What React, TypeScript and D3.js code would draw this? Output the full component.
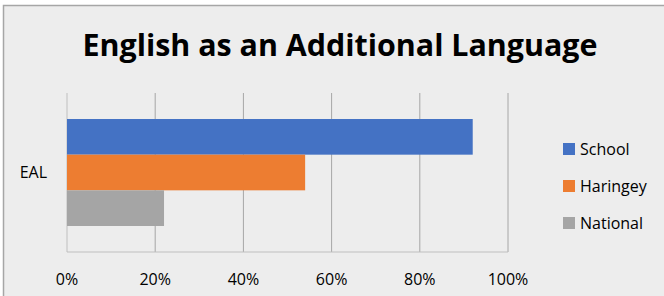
import React from "react";
import * as d3 from "d3";

const categories = ["EAL"];
const seriesNames = ["School", "Haringey", "National"];
const seriesValues = [0.92, 0.54, 0.22];
const seriesColors = ["#4472C4", "#ED7D31", "#A5A5A5"];
const xTicks = [0, 0.2, 0.4, 0.6, 0.8, 1.0];
const title = "English as an Additional Language";

export default function App() {
  const W = 664, H = 296;
  const x = d3.scaleLinear().domain([0, 1]).range([67, 508]);
  const y = d3.scaleBand().domain(categories).range([93, 252]);
  const inner = d3
    .scaleBand()
    .domain(seriesNames)
    .range([y(categories[0])! + 26, y(categories[0])! + y.bandwidth() - 26]);
  const font = "'Open Sans', sans-serif";
  return (
    <svg width={W} height={H} style={{ position: "absolute", left: 0, top: 0, display: "block" }}>
      <rect x={0} y={0} width={W} height={H} fill="#ffffff" />
      <rect x={3.5} y={5.5} width={W + 10} height={H + 10} fill="#EDEDED" stroke="#A6A6A6" strokeWidth={1.5} />
      <text x={340} y={55.5} textAnchor="middle" fontFamily={font} fontWeight={700} fontSize={30} fill="#000" textLength={515} lengthAdjust="spacingAndGlyphs">
        {title}
      </text>
      {xTicks.map((t) => (
        <line key={t} x1={x(t)} x2={x(t)} y1={93} y2={252} stroke={t === 0 ? "#BFBFBF" : "#A6A6A6"} strokeWidth={1} />
      ))}
      <line x1={67} x2={508} y1={252} y2={252} stroke="#BFBFBF" strokeWidth={1} />
      {seriesNames.map((s, i) => (
        <rect key={s} x={x(0)} y={inner(s)!} width={x(seriesValues[i]) - x(0)} height={inner.bandwidth()} fill={seriesColors[i]} />
      ))}
      {xTicks.map((t) => (
        <text key={t} x={x(t)} y={284.5} textAnchor="middle" fontFamily={font} fontSize={16} fill="#000">
          {d3.format(".0%")(t)}
        </text>
      ))}
      {categories.map((c) => (
        <text key={c} x={47} y={y(c)! + y.bandwidth() / 2 + 5.5} textAnchor="end" fontFamily={font} fontSize={16} fill="#000">
          {c}
        </text>
      ))}
      {seriesNames.map((s, i) => {
        const ly = [149, 186, 223][i];
        return (
          <g key={s}>
            <rect x={563} y={ly - 6} width={12} height={12} fill={seriesColors[i]} />
            <text x={580} y={ly + 5.5} fontFamily={font} fontSize={16} fill="#000">
              {s}
            </text>
          </g>
        );
      })}
    </svg>
  );
}
